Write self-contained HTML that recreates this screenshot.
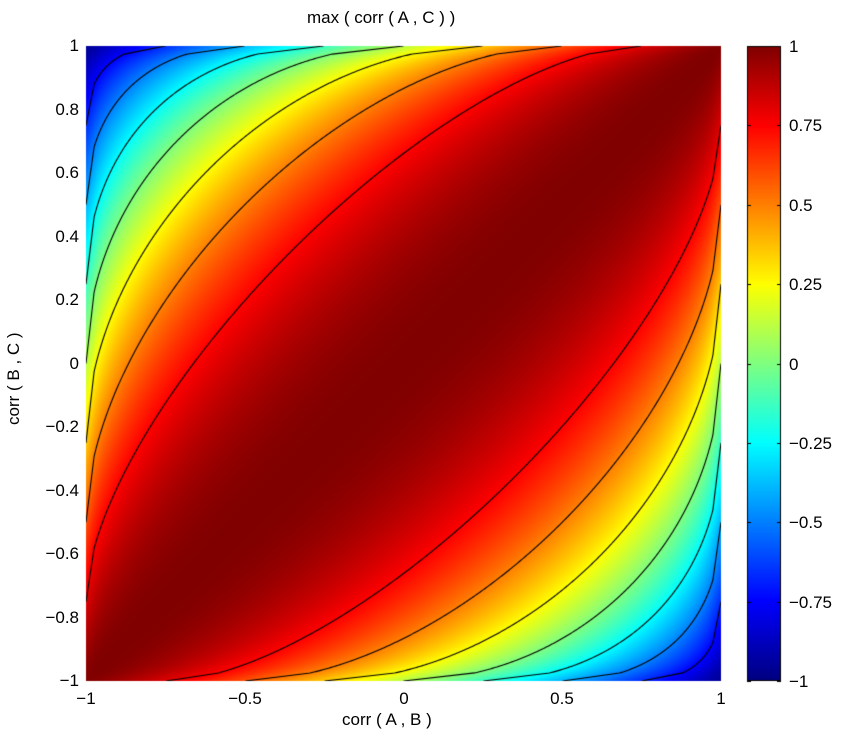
<!DOCTYPE html>
<html><head><style>
body{margin:0;background:#fff;width:850px;height:740px;overflow:hidden;font-family:"Liberation Sans",sans-serif;}
canvas{position:absolute;left:0;top:0;}
.t{position:absolute;font-size:17px;color:#000;white-space:nowrap;line-height:20px;}
</style></head><body>
<canvas id="c" width="850" height="740"></canvas>
<div class="t" style="left:307px;top:8px;">max ( corr ( A , C ) )</div>
<div class="t" style="left:342px;top:710px;">corr ( A , B )</div>
<div class="t" style="left:4px;top:425px;transform-origin:0 0;transform:rotate(-90deg);">corr ( B , C )</div>
<div id="lab"></div>
<script>
var cv=document.getElementById('c'),ctx=cv.getContext('2d');
var X0=86,X1=721,Y0=46,Y1=681,W=X1-X0,H=Y1-Y0,E=0.975;
function cl(v){return v<0?0:v>1?1:v;}
function cp(v){return v<-E?-E:v>E?E:v;}
function jet(v){return [cl(1.5-Math.abs(4*v-3)),cl(1.5-Math.abs(4*v-2)),cl(1.5-Math.abs(4*v-1))];}
function f(a,b){return a*b+Math.sqrt(Math.max(0,(1-a*a)*(1-b*b)));}
function gb(a,b){if(Math.abs(b)<=E)return f(a,b);var s=Math.sign(b),w=(Math.abs(b)-E)/(1-E);return (1-w)*f(a,s*E)+w*f(a,s);}
function g(a,b){if(Math.abs(a)<=E)return gb(a,b);var s=Math.sign(a),w=(Math.abs(a)-E)/(1-E);return (1-w)*gb(s*E,b)+w*gb(s,b);}
var img=ctx.createImageData(W,H);
for(var j=0;j<H;j++){var b=1-2*(j+0.5)/H;for(var i=0;i<W;i++){var a=-1+2*(i+0.5)/W;
var z=0.5*g(a,b)+0.5*f(cp(a),cp(b));var c=jet((z+1)/2);var k=4*(j*W+i);
img.data[k]=c[0]*255;img.data[k+1]=c[1]*255;img.data[k+2]=c[2]*255;img.data[k+3]=255;}}
ctx.putImageData(img,X0,Y0);
var CX0=747,CX1=781;
for(var j=0;j<H;j++){var c=jet(1-(j+0.5)/H);ctx.fillStyle='rgb('+(c[0]*255|0)+','+(c[1]*255|0)+','+(c[2]*255|0)+')';ctx.fillRect(CX0,Y0+j,CX1-CX0,1);}
function px(a){return X0+(a+1)/2*W;}function py(b){return Y1-(b+1)/2*H;}
ctx.save();ctx.beginPath();ctx.rect(X0,Y0,W,H);ctx.clip();
ctx.strokeStyle='#000';ctx.lineWidth=1.1;
for(var q=-3;q<=3;q++){var lv=q*0.25;var d0=Math.acos(lv);
[d0,-d0].forEach(function(d){var all=[],pts=[];
for(var s=0;s<=3000;s++){var t=-Math.PI+s*(3*Math.PI)/3000;var tb=t-d;
if(t<0||t>Math.PI||tb<0||tb>Math.PI)continue;var a=Math.cos(t),b=Math.cos(tb);all.push([a,b]);
if(Math.abs(a)>E||Math.abs(b)>E)continue;pts.push([a,b]);}
if(pts.length<2)return;
var s0=all[0],s1=all[all.length-1];
ctx.beginPath();ctx.moveTo(px(s0[0]),py(s0[1]));
pts.forEach(function(p){ctx.lineTo(px(p[0]),py(p[1]));});
ctx.lineTo(px(s1[0]),py(s1[1]));ctx.stroke();});}
ctx.restore();
ctx.lineWidth=1;
ctx.strokeRect(CX0+0.5,Y0+0.5,CX1-CX0-1,H-1);
var lab=document.getElementById('lab'),h='';
[-1,-0.5,0,0.5,1].forEach(function(v){var x=Math.round(px(v));
var s=(v<0?'\u2212':'')+Math.abs(v);h+='<div class="t" style="left:'+(x-30)+'px;width:60px;text-align:center;top:689px;">'+s+'</div>';});
for(var k=0;k<=10;k++){var v=Math.round((-1+k*0.2)*10)/10;var y=Math.round(py(v));
var s=(v<0?'\u2212':'')+Math.abs(v);h+='<div class="t" style="left:0;width:79px;text-align:right;top:'+(y-10)+'px;">'+s+'</div>';}
['1','0.75','0.5','0.25','0','\u22120.25','\u22120.5','\u22120.75','\u22121'].forEach(function(s,k){var y=Math.round(Y0+k*H/8)+0.5;
ctx.beginPath();ctx.moveTo(CX0,y);ctx.lineTo(CX0+4,y);ctx.moveTo(CX1,y);ctx.lineTo(CX1-4,y);ctx.stroke();
h+='<div class="t" style="left:789px;top:'+(y-10)+'px;">'+s+'</div>';});
lab.innerHTML=h;
</script>
</body></html>
